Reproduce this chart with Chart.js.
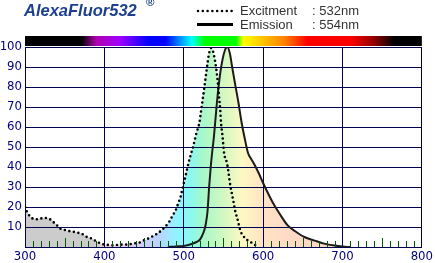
<!DOCTYPE html>
<html>
<head>
<meta charset="utf-8">
<script src="https://cdn.jsdelivr.net/npm/chart.js@4.4.1/dist/chart.umd.min.js"></script>
<style>
    body { margin: 0; background: #fff; }
    #wrap { position: relative; width: 435px; height: 263px; overflow: hidden; background: #fff; }
    #myChart { position: absolute; left: 0; top: 0; }
    .title { position: absolute; left: 24px; top: 1px; line-height: 20px; font: italic bold 16.5px "Liberation Sans", Arial, sans-serif; color: #1d3f8e; white-space: nowrap; }
    .title .reg { position: absolute; left: 122px; top: -5px; font-size: 11.5px; font-style: normal; }
    .leg { position: absolute; line-height: 15px; font: 13px "Liberation Sans", Arial, sans-serif; color: #333; white-space: nowrap; }
    svg.legline { position: absolute; left: 0; top: 0; }
</style>
</head>
<body>
<div id="wrap">
    <canvas id="myChart" width="435" height="263"></canvas>
    <div class="title">AlexaFluor532<span class="reg">®</span></div>
    <svg class="legline" width="435" height="40">
        <line x1="198" y1="11" x2="232" y2="11" stroke="#000" stroke-width="2.6" stroke-linecap="round" stroke-dasharray="0 4.8"></line>
        <line x1="197" y1="24.5" x2="233" y2="24.5" stroke="#000" stroke-width="3"></line>
    </svg>
    <div class="leg" style="left:240px; top:3px;">Excitment</div>
    <div class="leg" style="left:312px; top:3px;">: 532nm</div>
    <div class="leg" style="left:240px; top:17px;">Emission</div>
    <div class="leg" style="left:312px; top:17px;">: 554nm</div>
</div>
<script>
const ctx = document.getElementById('myChart').getContext('2d');

// excitation spectrum (dotted)
const excitationNm = [300, 302, 305, 308, 313, 319, 325, 331, 335, 340, 344, 350, 355, 360, 366, 372, 378, 384, 389, 395,
    400, 406, 412, 419, 425, 431, 437, 444, 448, 453, 458, 465, 471, 477, 482, 486, 490, 493, 496, 498,
    500, 502, 504, 506, 508, 512, 516, 520, 522, 524, 526, 528, 530, 532, 534.5, 537, 539, 541, 543, 544.5,
    546, 547, 549, 550.5, 552.5, 554, 556, 557.5, 559, 561, 563, 565, 567.5, 569.5, 571.5, 575, 580, 585, 590];
const excitationVal = [20, 18, 16, 14.7, 13.8, 14.2, 14.5, 14, 12.7, 11, 9.3, 8.5, 8, 7.7, 7.2, 6.5, 5, 4.2, 3, 1.8,
    1.2, 1, 0.8, 1.2, 1.2, 1.3, 1.8, 2.2, 3, 3.8, 4.8, 6.3, 8, 10.3, 12.8, 15.8, 18.5, 21.8, 25, 28.5,
    31.8, 35, 38.5, 42, 45, 50.5, 57, 62.7, 68.5, 74, 80, 86, 92, 97, 99.5, 97.7, 94, 89, 82, 75,
    68.5, 62, 55, 48, 44, 42.7, 38.5, 34, 30, 26, 22, 17.7, 14.3, 11, 8, 5.5, 3.5, 2.3, 1];

// emission spectrum (solid)
const emissionNm = [480, 490, 500, 510, 516, 520, 523, 526, 528, 530, 532, 534, 536, 538, 540, 542.5, 546, 549, 552, 555,
    558, 561, 564.5, 569, 573, 577, 581, 585, 590, 595, 600, 606, 612.5, 621, 631, 640, 652, 665, 677, 690, 700, 710];
const emissionVal = [0, 0.3, 0.5, 1.5, 2.5, 3.5, 5.5, 8.5, 12, 18, 30, 40, 48, 55, 64, 75, 87, 94, 98.5, 100,
    97, 90, 82, 72, 62, 54, 47, 44, 40.5, 36.5, 32, 27, 22, 16.5, 10.8, 8, 5, 3.2, 1.7, 0.7, 0.2, 0];

const xTicks = [300, 400, 500, 600, 700, 800];
const yTicks = [10, 20, 30, 40, 50, 60, 70, 80, 90, 100];

// colours of the spectrum bar above the plot
const barStopsNm = [300, 371, 390, 419, 456, 477, 510, 527, 566, 575, 627, 656, 710, 740, 765, 800];
const barColors = ['#000000', '#000000', '#b000b0', '#a000ff', '#0000ff', '#0000ff', '#00ffff', '#00ff00', '#00ff00',
    '#ffff00', '#ff8000', '#ff0000', '#ff0000', '#900000', '#000000', '#000000'];

// pastel colours under the curves
const fillStopsNm = [300, 385, 405, 440, 470, 490, 510, 525, 550, 575, 600, 640, 800];
const fillColors = ['#cccccc', '#cccccc', '#f6cce6', '#dacaf8', '#b8d4ff', '#90f4ff', '#8cf8ec', '#a8f8c8', '#d2f8c0',
    '#fff8c4', '#ffe2c4', '#ffd8c8', '#ffd0d0'];

const navy = '#000050';
const labelFont = { family: '"Liberation Sans Narrow", "DejaVu Sans Condensed", "Liberation Sans", sans-serif', size: 13 };

function makeGradient(chart, stopsNm, colors) {
    const { chartArea, scales } = chart;
    if (!chartArea) return null;
    const x0 = scales.x.getPixelForValue(300);
    const x1 = scales.x.getPixelForValue(800);
    const g = chart.ctx.createLinearGradient(x0, 0, x1, 0);
    stopsNm.forEach((nm, i) => g.addColorStop((nm - 300) / 500, colors[i]));
    return g;
}

const spectrumBar = {
    id: 'spectrumBar',
    afterDraw(chart) {
        const c = chart.ctx;
        const area = chart.chartArea;
        c.save();
        c.fillStyle = makeGradient(chart, barStopsNm, barColors);
        c.fillRect(area.left, area.top - 11, area.right - area.left, 10);
        c.restore();
    }
};

const minorTicks = {
    id: 'minorTicks',
    afterDatasetsDraw(chart) {
        const c = chart.ctx;
        const xs = chart.scales.x;
        const bottom = chart.chartArea.bottom;
        c.save();
        c.strokeStyle = '#005a00';
        c.lineWidth = 1;
        for (let nm = 310; nm < 800; nm += 10) {
            if (nm % 100 === 0) continue;
            const len = nm % 50 === 0 ? 9 : 6;
            const px = Math.round(xs.getPixelForValue(nm)) + 0.5;
            c.beginPath();
            c.moveTo(px, bottom);
            c.lineTo(px, bottom - len);
            c.stroke();
        }
        c.restore();
    }
};

new Chart(ctx, {
    type: 'line',
    data: {
        datasets: [{
            label: 'Excitment',
            data: excitationNm.map((nm, i) => ({ x: nm, y: excitationVal[i] })),
            borderColor: '#000000',
            borderWidth: 2.6,
            borderDash: [0, 4.6],
            borderCapStyle: 'round',
            fill: 'origin',
            backgroundColor: c => makeGradient(c.chart, fillStopsNm, fillColors),
            pointRadius: 0,
            cubicInterpolationMode: 'monotone'
        }, {
            label: 'Emission',
            data: emissionNm.map((nm, i) => ({ x: nm, y: emissionVal[i] })),
            borderColor: '#1c1c1c',
            borderWidth: 2,
            fill: 'origin',
            backgroundColor: c => makeGradient(c.chart, fillStopsNm, fillColors),
            pointRadius: 0,
            cubicInterpolationMode: 'monotone'
        }]
    },
    options: {
        responsive: false,
        animation: false,
        layout: { padding: { top: 47, right: 10, left: 0, bottom: 0 } },
        plugins: {
            legend: { display: false },
            tooltip: { enabled: false },
            filler: { drawTime: 'beforeDraw' }
        },
        scales: {
            x: {
                type: 'linear',
                min: 300,
                max: 800,
                afterBuildTicks: s => { s.ticks = xTicks.map(v => ({ value: v })); },
                afterFit: s => { s.height = 16; },
                ticks: { color: '#000080', font: labelFont, padding: 2, maxRotation: 0 },
                grid: { color: navy, lineWidth: 1, drawTicks: false },
                border: { color: navy, width: 1 }
            },
            y: {
                min: 0,
                max: 100,
                afterBuildTicks: s => { s.ticks = [0].concat(yTicks).map(v => ({ value: v })); },
                afterFit: s => { s.width = 25; },
                ticks: { color: '#000080', font: labelFont, padding: 3, callback: v => v === 0 ? '' : v },
                grid: { color: navy, lineWidth: 1, drawTicks: false },
                border: { color: navy, width: 1 }
            }
        }
    },
    plugins: [spectrumBar, minorTicks]
});
</script>
</body>
</html>
